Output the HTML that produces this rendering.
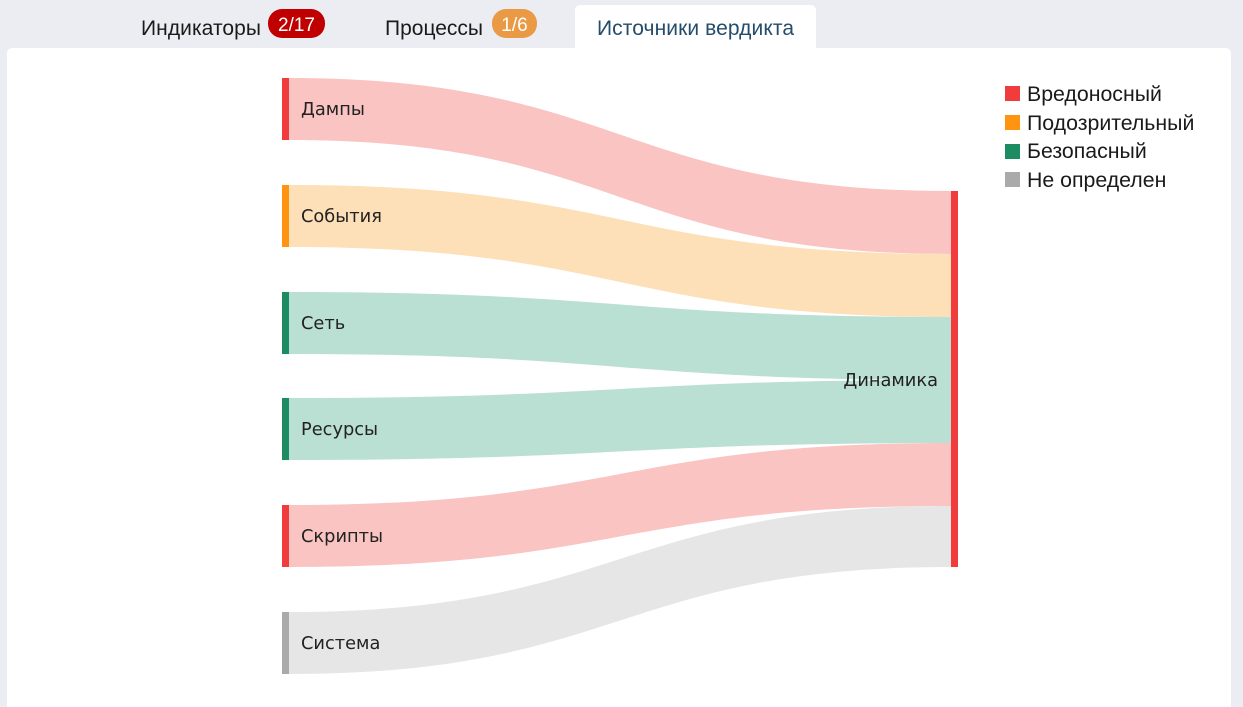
<!DOCTYPE html>
<html><head><meta charset="utf-8"><style>
html,body{margin:0;padding:0;width:1243px;height:707px;overflow:hidden;background:#ecedf3;}
svg{display:block}
</style></head><body>
<svg width="1243" height="707" xmlns="http://www.w3.org/2000/svg">
<rect x="7" y="48" width="1224" height="670" rx="5" fill="#fff"/>
<rect x="575" y="5" width="241" height="48" rx="5" fill="#fff"/>
<g font-family="Liberation Sans, sans-serif" font-size="21">
<text x="141" y="35" fill="#1a1a1a" textLength="120">Индикаторы</text>
<rect x="268" y="9" width="57" height="29" rx="14" fill="#c00000"/>
<text x="296.5" y="31" fill="#fff" text-anchor="middle" font-size="19">2/17</text>
<text x="385" y="35" fill="#1a1a1a" textLength="98">Процессы</text>
<rect x="492" y="9" width="45" height="29" rx="14" fill="#ea9a44"/>
<text x="514.5" y="31" fill="#fff" text-anchor="middle" font-size="19">1/6</text>
<text x="597" y="35" fill="#244d6b" textLength="197">Источники вердикта</text>
</g>
<g>
<path d="M289,78 C620,78 620,191 951,191 L951,254 C620,254 620,140 289,140Z" fill="#f9c4c2"/>
<path d="M289,185 C620,185 620,254 951,254 L951,317 C620,317 620,247 289,247Z" fill="#fddfb8"/>
<path d="M289,292 C620,292 620,317 951,317 L951,380 C620,380 620,354 289,354Z" fill="#badfd3"/>
<path d="M289,398 C620,398 620,380 951,380 L951,443 C620,443 620,460 289,460Z" fill="#badfd3"/>
<path d="M289,505 C620,505 620,443 951,443 L951,506 C620,506 620,567 289,567Z" fill="#f9c4c2"/>
<path d="M289,612 C620,612 620,506 951,506 L951,567 C620,567 620,674 289,674Z" fill="#e6e6e6"/>
</g>
<rect x="282" y="78" width="7" height="62" fill="#f03c3c"/>
<rect x="282" y="185" width="7" height="62" fill="#ff9410"/>
<rect x="282" y="292" width="7" height="62" fill="#1d8c63"/>
<rect x="282" y="398" width="7" height="62" fill="#1d8c63"/>
<rect x="282" y="505" width="7" height="62" fill="#f03c3c"/>
<rect x="282" y="612" width="7" height="62" fill="#aaaaaa"/>
<rect x="951" y="191" width="7" height="376" fill="#f03c3c"/>
<g font-family="DejaVu Sans, sans-serif" font-size="17.8" fill="#222">
<text x="301" y="115">Дампы</text>
<text x="301" y="222">События</text>
<text x="301" y="329">Сеть</text>
<text x="301" y="435">Ресурсы</text>
<text x="301" y="542">Скрипты</text>
<text x="301" y="649">Система</text>
<text x="938" y="386" text-anchor="end">Динамика</text>
</g>
<g font-family="Liberation Sans, sans-serif" font-size="21.3" fill="#1a1a1a">
<rect x="1005" y="86" width="15" height="15" fill="#f03c3c"/><text x="1027" y="101">Вредоносный</text>
<rect x="1005" y="115" width="15" height="15" fill="#ff9410"/><text x="1027" y="130">Подозрительный</text>
<rect x="1005" y="144" width="15" height="15" fill="#1d8c63"/><text x="1027" y="158">Безопасный</text>
<rect x="1005" y="172" width="15" height="15" fill="#aaaaaa"/><text x="1027" y="187">Не определен</text>
</g>
</svg>
</body></html>
